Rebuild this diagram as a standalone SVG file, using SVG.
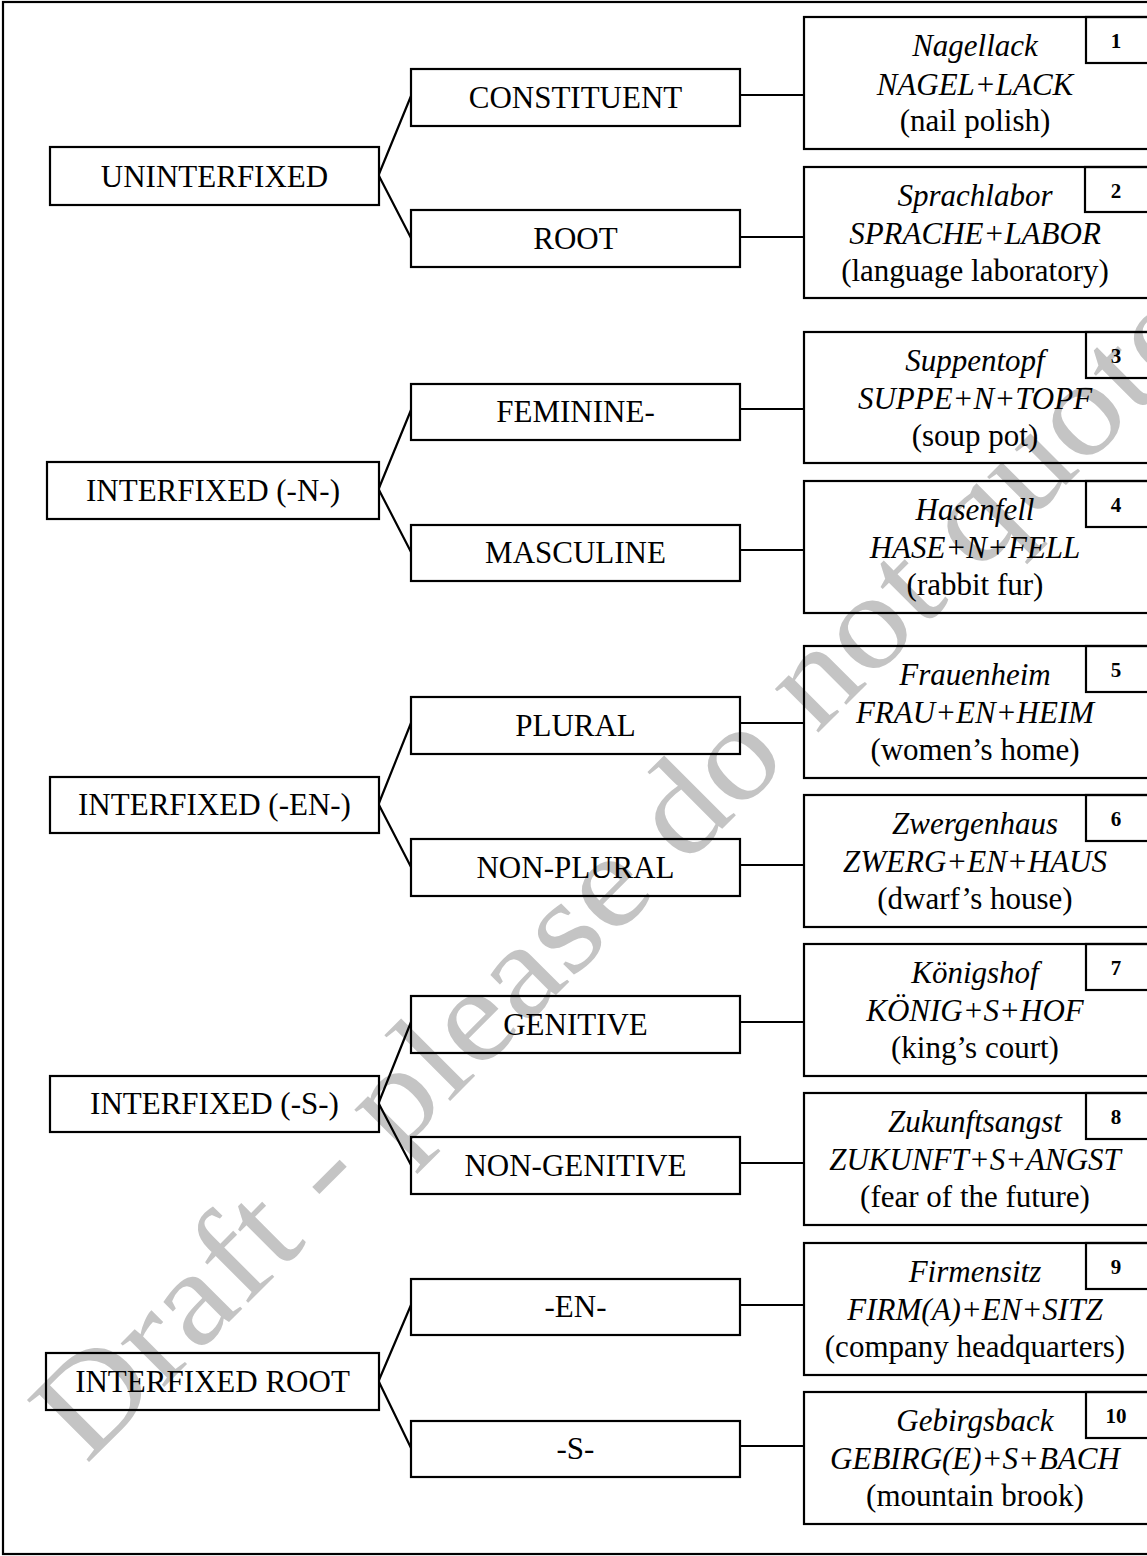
<svg xmlns="http://www.w3.org/2000/svg" width="1147" height="1556" viewBox="0 0 1147 1556">
<style>
.box{fill:none;stroke:#000;stroke-width:2.2}
.ln{fill:none;stroke:#000;stroke-width:2.2}
.t{font-family:"Liberation Serif","Times New Roman",serif;font-size:31px;fill:#000;text-anchor:middle}
.i{font-style:italic}
.n{font-family:"Liberation Serif","Times New Roman",serif;font-size:21px;font-weight:bold;fill:#000;text-anchor:middle}
.wm{font-family:"Liberation Serif","Times New Roman",serif;font-size:134px;fill:#c4c4c4}
</style>
<rect x="0" y="0" width="1147" height="1556" fill="#fff"/>
<g id="watermark">
<text class="wm" transform="translate(86,1465) rotate(-45)" x="0" y="0" textLength="1590" lengthAdjust="spacingAndGlyphs">Draft - please do not quote</text>
</g>
<rect id="frame" class="box" x="3" y="2" width="1160" height="1552"/>
<g id="connectors">
<path class="ln" d="M379,174 L411,96 M379,176 L411,238"/>
<path class="ln" d="M379,488 L411,410 M379,490 L411,552"/>
<path class="ln" d="M379,803 L411,723 M379,805 L411,867"/>
<path class="ln" d="M379,1102 L411,1022 M379,1104 L411,1165"/>
<path class="ln" d="M379,1380 L411,1305 M379,1382 L411,1448"/>
<path class="ln" d="M740,95 H804 M740,237 H804 M740,409 H804 M740,550 H804 M740,723 H804 M740,865 H804 M740,1022 H804 M740,1163 H804 M740,1305 H804 M740,1446 H804"/>
</g>
<g id="n-uninterfixed"><rect class="box" x="50" y="147" width="329" height="58"/><text class="t" x="214.5" y="187">UNINTERFIXED</text></g>
<g id="n-interfixed-n"><rect class="box" x="47" y="462" width="332" height="57"/><text class="t" x="213" y="501">INTERFIXED (-N-)</text></g>
<g id="n-interfixed-en"><rect class="box" x="50" y="777" width="329" height="56"/><text class="t" x="214.5" y="815">INTERFIXED (-EN-)</text></g>
<g id="n-interfixed-s"><rect class="box" x="50" y="1076" width="329" height="56"/><text class="t" x="214.5" y="1114">INTERFIXED (-S-)</text></g>
<g id="n-interfixed-root"><rect class="box" x="46" y="1353" width="333" height="57"/><text class="t" x="212.5" y="1392">INTERFIXED ROOT</text></g>
<g id="n-constituent"><rect class="box" x="411" y="69" width="329" height="57"/><text class="t" x="575.5" y="108">CONSTITUENT</text></g>
<g id="n-root"><rect class="box" x="411" y="210" width="329" height="57"/><text class="t" x="575.5" y="249">ROOT</text></g>
<g id="n-feminine"><rect class="box" x="411" y="384" width="329" height="56"/><text class="t" x="575.5" y="422">FEMININE-</text></g>
<g id="n-masculine"><rect class="box" x="411" y="525" width="329" height="56"/><text class="t" x="575.5" y="563">MASCULINE</text></g>
<g id="n-plural"><rect class="box" x="411" y="697" width="329" height="57"/><text class="t" x="575.5" y="736">PLURAL</text></g>
<g id="n-nonplural"><rect class="box" x="411" y="839" width="329" height="57"/><text class="t" x="575.5" y="878">NON-PLURAL</text></g>
<g id="n-genitive"><rect class="box" x="411" y="996" width="329" height="57"/><text class="t" x="575.5" y="1035">GENITIVE</text></g>
<g id="n-nongenitive"><rect class="box" x="411" y="1137" width="329" height="57"/><text class="t" x="575.5" y="1176">NON-GENITIVE</text></g>
<g id="n-en"><rect class="box" x="411" y="1279" width="329" height="56"/><text class="t" x="575.5" y="1317">-EN-</text></g>
<g id="n-s"><rect class="box" x="411" y="1421" width="329" height="56"/><text class="t" x="575.5" y="1459">-S-</text></g>
<g id="ex1"><rect class="box" x="804" y="17" width="360" height="132"/><rect class="box" x="1086" y="17" width="80" height="46"/><text class="n" x="1116" y="48">1</text><text class="t i" x="975" y="56">Nagellack</text><text class="t i" x="975" y="95">NAGEL+LACK</text><text class="t" x="975" y="131">(nail polish)</text></g>
<g id="ex2"><rect class="box" x="804" y="167" width="360" height="131"/><rect class="box" x="1085" y="167" width="80" height="45"/><text class="n" x="1116" y="198">2</text><text class="t i" x="975" y="206">Sprachlabor</text><text class="t i" x="975" y="244">SPRACHE+LABOR</text><text class="t" x="975" y="281">(language laboratory)</text></g>
<g id="ex3"><rect class="box" x="804" y="332" width="360" height="131"/><rect class="box" x="1086" y="332" width="80" height="46"/><text class="n" x="1116" y="363">3</text><text class="t i" x="975" y="371">Suppentopf</text><text class="t i" x="975" y="409">SUPPE+N+TOPF</text><text class="t" x="975" y="446">(soup pot)</text></g>
<g id="ex4"><rect class="box" x="804" y="481" width="360" height="132"/><rect class="box" x="1086" y="481" width="80" height="46"/><text class="n" x="1116" y="512">4</text><text class="t i" x="975" y="520">Hasenfell</text><text class="t i" x="975" y="558">HASE+N+FELL</text><text class="t" x="975" y="595">(rabbit fur)</text></g>
<g id="ex5"><rect class="box" x="804" y="646" width="360" height="132"/><rect class="box" x="1086" y="646" width="80" height="46"/><text class="n" x="1116" y="677">5</text><text class="t i" x="975" y="685">Frauenheim</text><text class="t i" x="975" y="723">FRAU+EN+HEIM</text><text class="t" x="975" y="760">(women’s home)</text></g>
<g id="ex6"><rect class="box" x="804" y="795" width="360" height="132"/><rect class="box" x="1086" y="795" width="80" height="46"/><text class="n" x="1116" y="826">6</text><text class="t i" x="975" y="834">Zwergenhaus</text><text class="t i" x="975" y="872">ZWERG+EN+HAUS</text><text class="t" x="975" y="909">(dwarf’s house)</text></g>
<g id="ex7"><rect class="box" x="804" y="944" width="360" height="132"/><rect class="box" x="1086" y="944" width="80" height="46"/><text class="n" x="1116" y="975">7</text><text class="t i" x="975" y="983">Königshof</text><text class="t i" x="975" y="1021">KÖNIG+S+HOF</text><text class="t" x="975" y="1058">(king’s court)</text></g>
<g id="ex8"><rect class="box" x="804" y="1093" width="360" height="132"/><rect class="box" x="1086" y="1093" width="80" height="46"/><text class="n" x="1116" y="1124">8</text><text class="t i" x="975" y="1132">Zukunftsangst</text><text class="t i" x="975" y="1170">ZUKUNFT+S+ANGST</text><text class="t" x="975" y="1207">(fear of the future)</text></g>
<g id="ex9"><rect class="box" x="804" y="1243" width="360" height="132"/><rect class="box" x="1086" y="1243" width="80" height="46"/><text class="n" x="1116" y="1274">9</text><text class="t i" x="975" y="1282">Firmensitz</text><text class="t i" x="975" y="1320">FIRM(A)+EN+SITZ</text><text class="t" x="975" y="1357">(company headquarters)</text></g>
<g id="ex10"><rect class="box" x="804" y="1392" width="360" height="132"/><rect class="box" x="1086" y="1392" width="80" height="46"/><text class="n" x="1116" y="1423">10</text><text class="t i" x="975" y="1431">Gebirgsback</text><text class="t i" x="975" y="1469">GEBIRG(E)+S+BACH</text><text class="t" x="975" y="1506">(mountain brook)</text></g>
</svg>
